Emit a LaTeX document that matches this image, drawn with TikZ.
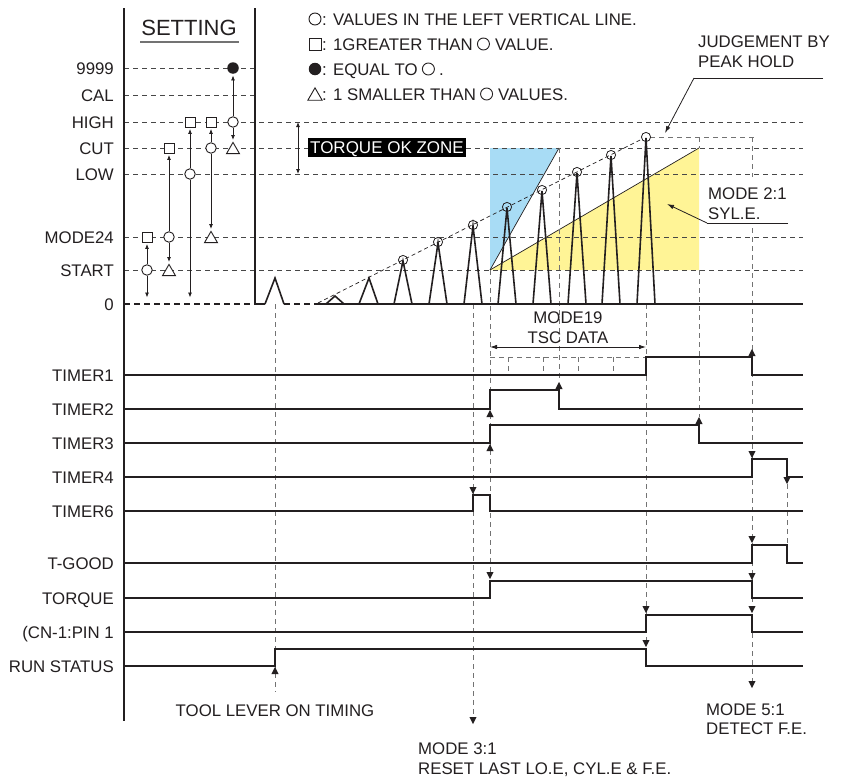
\documentclass[tikz,border=0pt]{standalone}
\usepackage{fontspec}
\setmainfont{Liberation Sans}
\usetikzlibrary{arrows.meta,shapes.geometric}
\definecolor{ink}{RGB}{35,31,32}
\definecolor{skyb}{RGB}{168,220,245}
\definecolor{lyel}{RGB}{255,244,150}
\newcommand{\tUp}[2]{\fill[ink] (#1,#2) -- ++(-3.6,7) -- ++(7.2,0) -- cycle;}
\newcommand{\tDn}[2]{\fill[ink] (#1,#2) -- ++(-3.6,-7) -- ++(7.2,0) -- cycle;}
\begin{document}
\begin{tikzpicture}[x=1pt,y=-1pt,
  lbl/.style={font=\fontsize{16.8}{19}\selectfont, text=ink, inner sep=0pt, text height=12pt, text depth=0pt},
  dsh/.style={draw=black!72, line width=0.9pt, dash pattern=on 5pt off 4pt},
  vdsh/.style={draw=black!55, line width=0.9pt, dash pattern=on 5pt off 4pt},
  wave/.style={draw=ink, line width=1.8pt, line join=miter},
  peak/.style={draw=ink, line width=1.6pt, line join=miter},
  osym/.style={circle, draw=ink, fill=white, line width=0.9pt, minimum size=10.5pt, inner sep=0pt},
  sqsym/.style={rectangle, draw=ink, fill=white, line width=0.9pt, minimum size=10pt, inner sep=0pt},
  fsym/.style={circle, fill=ink, minimum size=11.5pt, inner sep=0pt},
  tsym/.style={regular polygon, regular polygon sides=3, draw=ink, fill=white, line width=0.9pt, minimum size=15pt, inner sep=0pt},
  big/.style={minimum size=12pt},
  bigt/.style={minimum size=16.5pt},
  sarr/.style={draw=ink, line width=0.8pt, -{Latex[length=5pt,width=4pt]}, shorten >=1.5pt, shorten <=0.5pt},
  larr/.style={draw=ink, line width=0.8pt, -{Latex[length=7pt,width=4.5pt]}},
  thinline/.style={draw=ink, line width=0.8pt}
]
\useasboundingbox (0,0) rectangle (848,779);
\fill[white] (0,0) rectangle (848,779);

% ---------- coloured zones ----------
\fill[skyb] (490,148) -- (559,148) -- (490,270) -- cycle;
\fill[lyel] (490,270) -- (699,148) -- (699,270) -- cycle;
\draw[ink, line width=0.7pt] (559,148) -- (490,270);
\draw[ink, line width=0.7pt] (490,270) -- (699,148);

% ---------- level lines ----------
\foreach \y in {68,95} \draw[dsh] (124,\y) -- (255,\y);
\foreach \y in {122,148,174,237,270} \draw[dsh] (124,\y) -- (803,\y);

% ---------- level labels ----------
\node[lbl, anchor=east] (l9999) at (114,68) {9999};
\node[lbl, anchor=east] (lcal) at (114,95) {CAL};
\node[lbl, anchor=east] (lhigh) at (114,122) {HIGH};
\node[lbl, anchor=east] (lcut) at (114,148) {CUT};
\node[lbl, anchor=east] (llow) at (114,174) {LOW};
\node[lbl, anchor=east] (lm24) at (114,237) {MODE24};
\node[lbl, anchor=east] (lstart) at (114,270) {START};
\node[lbl, anchor=east] (lzero) at (114,304) {0};

% ---------- vertical dashed lines ----------
\draw[vdsh] (275,304) -- (275,692);
\draw[vdsh] (473,304) -- (473,717);
\draw[vdsh] (490,270) -- (490,575);
\draw[vdsh] (559,148) -- (559,382);
\draw[vdsh] (646,304) -- (646,641);
\draw[vdsh] (699,137) -- (699,148);
\draw[vdsh] (699,270) -- (699,417);
\draw[vdsh] (752,137) -- (752,177);
\draw[vdsh] (752,228) -- (752,681);
\draw[vdsh] (787,484) -- (787,545);
\draw[vdsh] (650,137) -- (757,137);
\draw[vdsh] (490,357) -- (646,357);
\foreach \x in {508,543,578,613} \draw[vdsh] (\x,357) -- (\x,373);

% ---------- baseline ----------
\draw[ink, line width=2pt, dash pattern=on 6pt off 4pt] (124,304) -- (255,304);
\draw[ink, line width=1.8pt] (255,304) -- (265,304);
\draw[ink, line width=2pt, dash pattern=on 6pt off 4pt] (284,304) -- (318,304);
\draw[ink, line width=1.8pt] (318,304) -- (803,304);

% ---------- axes ----------
\draw[ink, line width=2pt] (124,8) -- (124,721);
\draw[ink, line width=2pt] (255,8) -- (255,304);

% ---------- trend line ----------
\draw[draw=ink, line width=0.7pt, dash pattern=on 4pt off 3pt] (318,303) -- (642,139);

% ---------- peaks ----------
\draw[peak] (265,304) -- (275,278) -- (284,304);
\draw[peak] (326,304) -- (335,296) -- (344,304);
\draw[peak] (359,304) -- (369,278) -- (378,304);
\foreach \x/\y in {403/260, 438/242, 473/225, 507/207, 542/190, 577/172, 611/155, 646/137} {
  \draw[peak] (\x-9,304) -- (\x,\y+1) -- (\x+9,304);
  \draw[ink, line width=0.8pt] (\x,\y) circle (4.6);
}

% ---------- setting ----------
\node[font=\fontsize{22}{26}\selectfont, text=ink, inner sep=0pt] (setting) at (189,28) {SETTING};
\draw[black!55, line width=1.3pt] (140,42) -- (239,42);

\node[sqsym] (a1) at (147,237) {};
\node[osym] (a2) at (147,270) {};
\coordinate (a3) at (147,299);
\node[sqsym] (b1) at (169,148) {};
\node[osym] (b2) at (169,237) {};
\node[tsym] (b3) at (169,271.9) {};
\node[sqsym] (c1) at (190,122) {};
\node[osym] (c2) at (190,174) {};
\coordinate (c3) at (190,299);
\node[sqsym] (d1) at (211,122) {};
\node[osym] (d2) at (211,148) {};
\node[tsym] (d3) at (211,238.9) {};
\node[fsym] (e1) at (233,68) {};
\node[osym] (e2) at (233,122) {};
\node[tsym] (e3) at (233,149.9) {};
\draw[sarr] (a2) -- (a1);
\draw[sarr] (a2) -- (a3);
\draw[sarr] (b2) -- (b1);
\draw[sarr] (b2) -- (b3);
\draw[sarr] (c2) -- (c1);
\draw[sarr] (c2) -- (c3);
\draw[sarr] (d2) -- (d1);
\draw[sarr] (d2) -- (d3);
\draw[sarr] (e2) -- (e1);
\draw[sarr] (e2) -- (e3);

% ---------- legend ----------
\node[osym, big] (g1) at (315,19) {};
\node[lbl, anchor=west] (g1t) at (322,19) {: VALUES IN THE LEFT VERTICAL LINE.};
\node[sqsym, big] (g2) at (315,44) {};
\node[lbl, anchor=west] (g2t) at (322,44) {: 1GREATER THAN};
\node[osym, big, anchor=west, xshift=4pt] (g2c) at (g2t.east) {};
\node[lbl, anchor=west, xshift=5pt] (g2u) at (g2c.east) {VALUE.};
\node[fsym, minimum size=12.5pt] (g3) at (315,69) {};
\node[lbl, anchor=west] (g3t) at (322,69) {: EQUAL TO};
\node[osym, big, anchor=west, xshift=4pt] (g3c) at (g3t.east) {};
\node[lbl, anchor=west, xshift=4pt] (g3u) at (g3c.east) {.};
\node[tsym, bigt] (g4) at (315,96.1) {};
\node[lbl, anchor=west] (g4t) at (322,94) {: 1 SMALLER THAN};
\node[osym, big, anchor=west, xshift=4pt] (g4c) at (g4t.east) {};
\node[lbl, anchor=west, xshift=5pt] (g4u) at (g4c.east) {VALUES.};

% ---------- torque ok zone ----------
\coordinate (okt) at (298,122);
\coordinate (okb) at (298,174);
\draw[thinline, {Latex[length=5pt,width=4pt]}-{Latex[length=5pt,width=4pt]}] (okt) -- (okb);
\node[fill=black, text=white, font=\fontsize{17}{19}\selectfont, inner xsep=2.5pt, minimum height=19pt, text height=12pt, text depth=0pt] (okz) at (387,147.5) {TORQUE OK ZONE};

% ---------- judgement ----------
\node[lbl, anchor=west] (j1) at (698,41) {JUDGEMENT BY};
\node[lbl, anchor=west] (j2) at (698,61) {PEAK HOLD};
\coordinate (ju1) at (694,78);
\coordinate (ju2) at (823,78);
\coordinate (jtip) at (665,133);
\draw[thinline] (ju2) -- (ju1);
\draw[larr] (ju1) -- (jtip);

% ---------- mode 2:1 ----------
\node[lbl, anchor=west] (m21a) at (708,193) {MODE 2:1};
\node[lbl, anchor=west] (m21b) at (708,213) {SYL.E.};
\coordinate (mu1) at (707,223);
\coordinate (mu2) at (788,223);
\coordinate (mtip) at (667,204);
\draw[thinline] (mu2) -- (mu1);
\draw[larr] (mu1) -- (mtip);

% ---------- mode19 ----------
\node[lbl] (m19a) at (568,317) {MODE19};
\node[lbl] (m19b) at (568,337) {TSC DATA};
\coordinate (tscl) at (490,347);
\coordinate (tscr) at (646,347);
\draw[thinline, {Latex[length=7pt,width=4.5pt]}-{Latex[length=7pt,width=4.5pt]}] (tscl) -- (tscr);

% ---------- timing labels ----------
\node[lbl, anchor=east] (t1) at (114,375) {TIMER1};
\node[lbl, anchor=east] (t2) at (114,409) {TIMER2};
\node[lbl, anchor=east] (t3) at (114,443) {TIMER3};
\node[lbl, anchor=east] (t4) at (114,477) {TIMER4};
\node[lbl, anchor=east] (t6) at (114,511) {TIMER6};
\node[lbl, anchor=east] (tg) at (114,563) {T-GOOD};
\node[lbl, anchor=east] (tq) at (114,598) {TORQUE};
\node[lbl, anchor=east] (tc) at (114,632) {(CN-1:PIN 1};
\node[lbl, anchor=east] (tr) at (114,666) {RUN STATUS};

% ---------- waveforms ----------
\draw[wave] (124,375) -- (646,375) -- (646,357) -- (752,357) -- (752,375) -- (803,375);
\draw[wave] (124,409) -- (490,409) -- (490,390) -- (559,390) -- (559,409) -- (803,409);
\draw[wave] (124,443) -- (490,443) -- (490,425) -- (699,425) -- (699,443) -- (803,443);
\draw[wave] (124,477) -- (752,477) -- (752,459) -- (787,459) -- (787,477) -- (803,477);
\draw[wave] (124,511) -- (473,511) -- (473,495) -- (490,495) -- (490,511) -- (803,511);
\draw[wave] (124,563) -- (752,563) -- (752,545) -- (787,545) -- (787,563) -- (803,563);
\draw[wave] (124,598) -- (490,598) -- (490,581) -- (752,581) -- (752,598) -- (803,598);
\draw[wave] (124,632) -- (646,632) -- (646,615) -- (752,615) -- (752,632) -- (803,632);
\draw[wave] (124,666) -- (275,666) -- (275,649) -- (646,649) -- (646,666) -- (803,666);

% ---------- event arrowheads ----------
\tUp{752}{349}
\tUp{559}{382}
\tUp{490}{410}
\tUp{490}{444}
\tUp{699}{417}
\tUp{275}{667}
\tDn{752}{458}
\tDn{787}{484}
\tDn{473}{494}
\tDn{752}{543}
\tDn{490}{579}
\tDn{752}{580}
\tDn{646}{613}
\tDn{752}{613}
\tDn{646}{647}
\tDn{752}{688}
\tDn{473}{724}

% ---------- bottom texts ----------
\node[lbl] (tool) at (275,710) {TOOL LEVER ON TIMING};
\node[lbl, anchor=west] (m31a) at (418,748) {MODE 3:1};
\node[lbl, anchor=west] (m31b) at (418,768) {RESET LAST LO.E, CYL.E \& F.E.};
\node[lbl, anchor=west] (m51a) at (706,709) {MODE 5:1};
\node[lbl, anchor=west] (m51b) at (706,728) {DETECT F.E.};
\end{tikzpicture}
\end{document}
